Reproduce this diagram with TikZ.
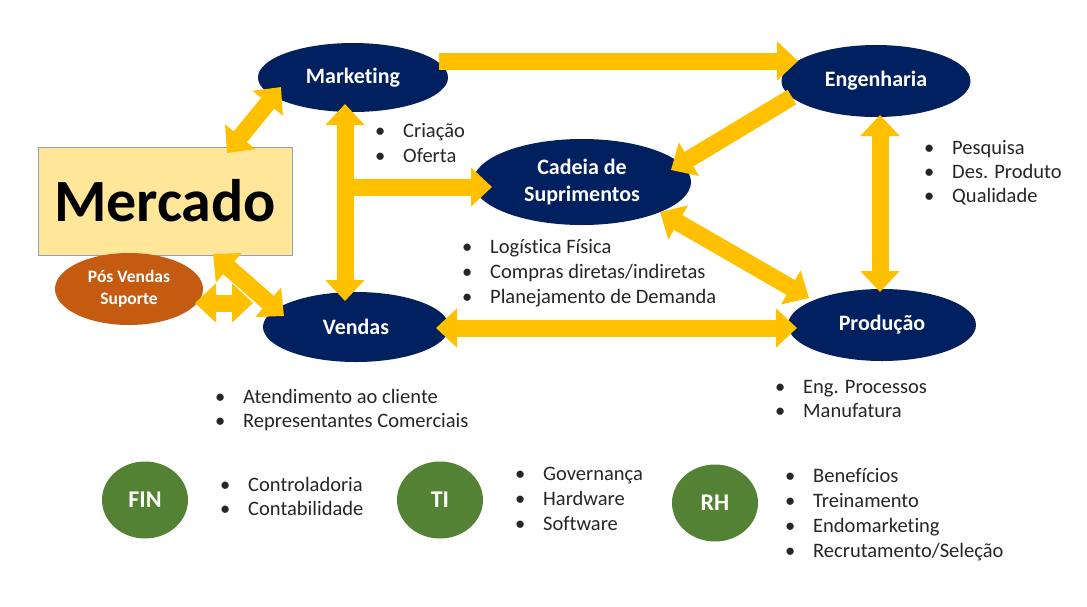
\documentclass[tikz,border=0pt]{standalone}
\usepackage{fontspec}
\setmainfont{Carlito}[Ligatures=NoCommon]
\usetikzlibrary{arrows.meta,shapes.geometric}
\definecolor{navy}{HTML}{002060}
\definecolor{ayellow}{HTML}{FFC000}
\definecolor{porange}{HTML}{C55A11}
\definecolor{fgreen}{HTML}{548235}
\definecolor{merfill}{HTML}{FFE699}
\definecolor{merline}{HTML}{8FA0B8}
\definecolor{txt}{HTML}{262626}
\newcommand{\bul}{\llap{\makebox[10pt]{•}\hspace{18pt}}}
\begin{document}
\begin{tikzpicture}[x=1pt,y=-1pt,
  dept/.style={ellipse, fill=navy, text=white, font=\fontsize{22}{27}\selectfont\bfseries, inner sep=0pt, align=center},
  supp/.style={ellipse, fill=fgreen, text=white, font=\fontsize{24}{27}\selectfont\bfseries, inner sep=0pt, minimum width=86pt, minimum height=77pt},
  li/.style={anchor=base west, inner sep=0pt, text=txt, font=\fontsize{20.5}{24}\selectfont},
  ar/.style={draw=ayellow, line width=17pt},
  two/.style={ar, {Triangle[length=21pt,width=38pt]}-{Triangle[length=21pt,width=38pt]}},
  one/.style={ar, -{Triangle[length=21pt,width=38pt]}},
]
\path[use as bounding box, fill=white] (0,0) rectangle (1087,606);

% main nodes
\node[dept, minimum width=190pt, minimum height=69pt] (mkt) at (353,77.5) {Marketing};
\node[dept, minimum width=189pt, minimum height=72pt] (eng) at (876,81) {Engenharia};
\node[dept, minimum width=218pt, minimum height=86pt] (cad) at (582,182) {Cadeia de\\Suprimentos};
\node[dept, minimum width=186pt, minimum height=70pt] (vend) at (356,327) {Vendas};
\node[dept, minimum width=188pt, minimum height=72pt] (prod) at (882,325) {Produção};
\node[draw=merline, fill=merfill, line width=1pt, minimum width=254pt, minimum height=108pt, inner sep=0pt, font=\fontsize{60}{60}\selectfont\bfseries] (merc) at (165,201) {Mercado};
\node[ellipse, fill=porange, text=white, minimum width=148pt, minimum height=72pt, inner sep=0pt, align=center, font=\fontsize{17.5}{22}\selectfont\bfseries] (posv) at (129,289) {Pós Vendas\\Suporte};

\node[supp] (fin) at (145,500) {FIN};
\node[supp] (ti) at (440,500) {TI};
\node[supp] (rh) at (715,503) {RH};

% arrows
\draw[two] ([shift={(-72,9.5)}]mkt.center) -- ([shift={(62,-48)}]merc.center);
\draw[one] ([shift={(86,-16.5)}]mkt.center) -- ([shift={(-78,-20)}]eng.center);
\draw[one] ([shift={(-84,16)}]eng.center) -- ([shift={(89,-12)}]cad.center);
\draw[two] ([shift={(-8,26.5)}]mkt.center) -- ([shift={(-11,-26)}]vend.center);
\coordinate (br) at (345,187);
\draw[one] (br) -- ([shift={(-90,5)}]cad.center);
\draw[two] ([shift={(4,34)}]eng.center) -- ([shift={(-2,-33)}]prod.center);
\draw[two] ([shift={(78,30)}]cad.center) -- ([shift={(-73,-27)}]prod.center);
\draw[two] ([shift={(80,1)}]vend.center) -- ([shift={(-85,3)}]prod.center);
\draw[two] ([shift={(48,53)}]merc.center) -- ([shift={(-72,-11)}]vend.center);
\coordinate (pj) at (253,303);
\draw[two] ([shift={(66,14)}]posv.center) -- (pj);

% bullet lists
\node[li] (c1) at (403,137) {\bul Criação};
\node[li] (c2) at (403,162) {\bul Oferta};

\node[li] (p1) at (952,154) {\bul Pesquisa};
\node[li] (p2) at (952,178) {\bul Des. Produto};
\node[li] (p3) at (952,202) {\bul Qualidade};

\node[li] (l1) at (490,253) {\bul Logística Física};
\node[li] (l2) at (490,278) {\bul Compras diretas/indiretas};
\node[li] (l3) at (490,303) {\bul Planejamento de Demanda};

\node[li] (a1) at (243,403) {\bul Atendimento ao cliente};
\node[li] (a2) at (243,427) {\bul Representantes Comerciais};

\node[li] (e1) at (803,393) {\bul Eng. Processos};
\node[li] (e2) at (803,417) {\bul Manufatura};

\node[li] (f1) at (248,491) {\bul Controladoria};
\node[li] (f2) at (248,515) {\bul Contabilidade};

\node[li] (g1) at (543,480) {\bul Governança};
\node[li] (g2) at (543,505) {\bul Hardware};
\node[li] (g3) at (543,530) {\bul Software};

\node[li] (r1) at (813,482) {\bul Benefícios};
\node[li] (r2) at (813,507) {\bul Treinamento};
\node[li] (r3) at (813,532) {\bul Endomarketing};
\node[li] (r4) at (813,557) {\bul Recrutamento/Seleção};
\end{tikzpicture}
\end{document}
